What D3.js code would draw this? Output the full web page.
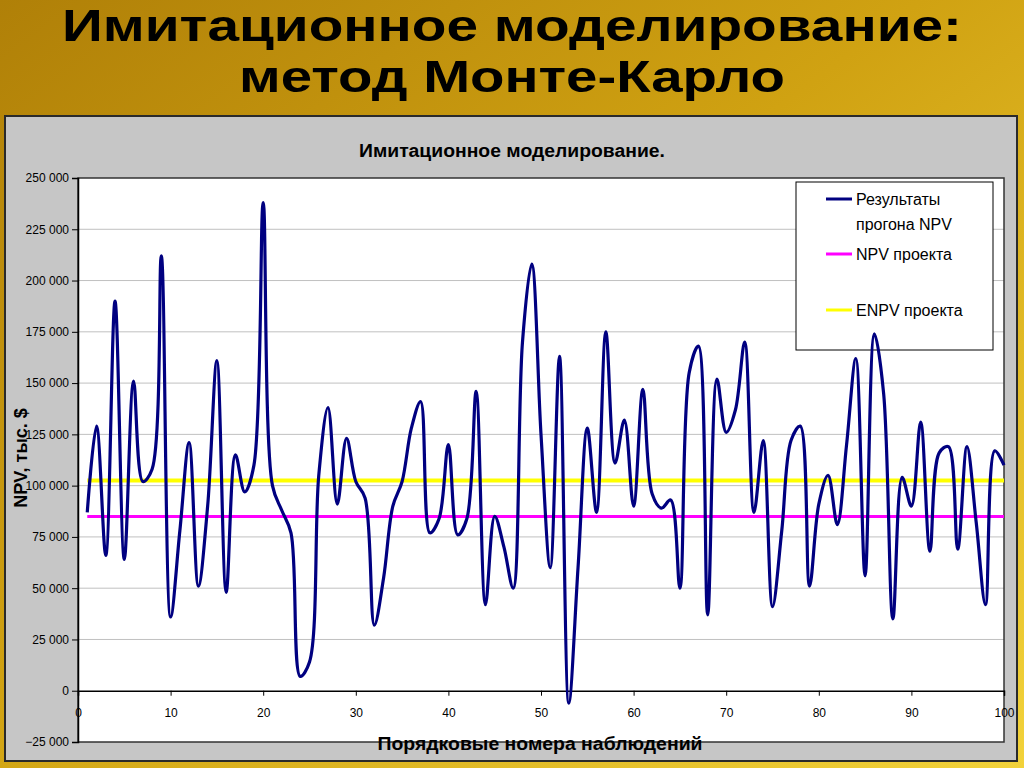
<!DOCTYPE html>
<html>
<head>
<meta charset="utf-8">
<script src="https://cdn.jsdelivr.net/npm/d3@7"></script>
<style>
  body { margin: 0; padding: 0; overflow: hidden; }
  svg { display: block; }
</style>
</head>
<body>
<svg id="canvas" width="1024" height="768"></svg>
<script>
// observation numbers 1..100 and simulated NPV values
let runs = d3.range(1, 101);
let npvRuns = [
  87000, 129000, 66000, 190000, 64000, 151000, 102000, 108000, 212000, 36000,
  78000, 121000, 51000, 90000, 161000, 48000, 115000, 97000, 110000, 238000,
  100000, 88000, 77000, 7000, 14000, 105000, 138000, 91000, 123000, 102000,
  94000, 32000, 55000, 90000, 102000, 128000, 141000, 77000, 84000, 120000,
  76000, 84000, 146000, 42000, 85000, 70000, 50000, 170000, 208000, 125000,
  60000, 163000, -6000, 60000, 128000, 87000, 175000, 111000, 132000, 90000,
  147000, 96000, 89000, 93000, 50000, 155000, 168000, 37000, 152000, 126000,
  137000, 170000, 87000, 122000, 41000, 78000, 122000, 129000, 51000, 91000,
  105000, 81000, 120000, 162000, 56000, 174000, 145000, 35000, 104000, 90000,
  131000, 68000, 116000, 119000, 69000, 119000, 82000, 42000, 117000, 110000
];
let npvProject = 85000;
let enpvProject = 102500;

let yTicks = d3.range(-25000, 250001, 25000);
let xTicks = d3.range(0, 101, 10);

let legendItems = [
  { lines: ['Результаты', 'прогона NPV'], color: '#000080' },
  { lines: ['NPV проекта'], color: '#ff00ff' },
  { lines: ['ENPV проекта'], color: '#ffff00' }
];

let svg = d3.select('#canvas');
let sans = "'Liberation Sans', Arial, sans-serif";

// slide background
let defs = svg.append('defs');
let grad = defs.append('linearGradient')
  .attr('id', 'bg').attr('x1', '0').attr('y1', '0').attr('x2', '1').attr('y2', '1');
grad.append('stop').attr('offset', '0%').attr('stop-color', '#b08008');
grad.append('stop').attr('offset', '45%').attr('stop-color', '#d0a212');
grad.append('stop').attr('offset', '100%').attr('stop-color', '#f2d23a');

svg.append('rect').attr('width', 1024).attr('height', 768).attr('fill', 'url(#bg)');

// slide title
svg.append('text')
  .attr('x', 512).attr('y', 41)
  .attr('text-anchor', 'middle')
  .style('font-family', sans).style('font-weight', 'bold').style('font-size', '45px')
  .attr('textLength', 900).attr('lengthAdjust', 'spacingAndGlyphs')
  .text('Имитационное моделирование:');
svg.append('text')
  .attr('x', 512).attr('y', 92)
  .attr('text-anchor', 'middle')
  .style('font-family', sans).style('font-weight', 'bold').style('font-size', '45px')
  .attr('textLength', 546).attr('lengthAdjust', 'spacingAndGlyphs')
  .text('метод Монте-Карло');

// chart panel
svg.append('rect')
  .attr('x', 5).attr('y', 116).attr('width', 1012).attr('height', 645)
  .attr('fill', '#c6c6c6').attr('stroke', '#2a2a2a').attr('stroke-width', 2);

let plotLeft = 78, plotRight = 1004, plotTop = 178, plotBottom = 742;

let x = d3.scaleLinear().domain([0, 100]).range([plotLeft, plotRight]);
let y = d3.scaleLinear().domain([-25000, 250000]).range([plotBottom, plotTop]);

svg.append('rect')
  .attr('x', plotLeft).attr('y', plotTop)
  .attr('width', plotRight - plotLeft).attr('height', plotBottom - plotTop)
  .attr('fill', 'white');

// gridlines
svg.append('g')
  .selectAll('line')
  .data(yTicks.filter(d => d !== 0 && d !== -25000 && d !== 250000))
  .enter()
  .append('line')
  .attr('x1', plotLeft).attr('x2', plotRight)
  .attr('y1', d => y(d)).attr('y2', d => y(d))
  .attr('stroke', '#c0c0c0').attr('stroke-width', 1);

// plot frame
svg.append('rect')
  .attr('x', plotLeft).attr('y', plotTop)
  .attr('width', plotRight - plotLeft).attr('height', plotBottom - plotTop)
  .attr('fill', 'none').attr('stroke', '#333').attr('stroke-width', 1.5);

// y axis
let yAxis = d3.axisLeft(y)
  .tickValues(yTicks)
  .tickSize(6)
  .tickFormat(d => d3.format(',')(d).replace(/,/g, ' '));
let yG = svg.append('g').attr('transform', `translate(${plotLeft},0)`).call(yAxis);
yG.select('.domain').attr('stroke', '#000').attr('stroke-width', 1.5);
yG.selectAll('.tick line').attr('stroke', '#000');
yG.selectAll('.tick text')
  .attr('x', -9)
  .style('font-family', sans).style('font-size', '12px').attr('fill', '#000');

// x axis along zero
let xAxis = d3.axisBottom(x).tickValues(xTicks).tickSize(5).tickFormat(d3.format('d'));
let xG = svg.append('g').attr('transform', `translate(0,${y(0)})`).call(xAxis);
xG.select('.domain').attr('stroke', '#000').attr('stroke-width', 1.5);
xG.selectAll('.tick line').attr('stroke', '#000');
xG.selectAll('.tick text')
  .attr('y', 18)
  .style('font-family', sans).style('font-size', '12px').attr('fill', '#000');

// legend (series line is drawn over it, as in the original)
let lg = svg.append('g');
lg.append('rect')
  .attr('x', 796).attr('y', 182).attr('width', 197).attr('height', 168)
  .attr('fill', 'white').attr('stroke', '#000').attr('stroke-width', 1);

let legendY = [199, 254, 310];
legendItems.forEach((item, k) => {
  lg.append('line')
    .attr('x1', 826).attr('x2', 852)
    .attr('y1', legendY[k]).attr('y2', legendY[k])
    .attr('stroke', item.color).attr('stroke-width', 3);
  item.lines.forEach((t, j) => {
    lg.append('text')
      .attr('x', 856).attr('y', legendY[k] + 6 + j * 25)
      .style('font-family', sans).style('font-size', '16px').attr('fill', '#000')
      .text(t);
  });
});

// reference lines
svg.append('line')
  .attr('x1', x(1)).attr('x2', x(100))
  .attr('y1', y(enpvProject)).attr('y2', y(enpvProject))
  .attr('stroke', '#ffff00').attr('stroke-width', 4);
svg.append('line')
  .attr('x1', x(1)).attr('x2', x(100))
  .attr('y1', y(npvProject)).attr('y2', y(npvProject))
  .attr('stroke', '#ff00ff').attr('stroke-width', 3);

// simulation runs
let line = d3.line()
  .x((d, i) => x(runs[i]))
  .y(d => y(d))
  .curve(d3.curveCatmullRom.alpha(0.5));

svg.append('path')
  .datum(npvRuns)
  .attr('d', line)
  .attr('fill', 'none')
  .attr('stroke', '#000080')
  .attr('stroke-width', 3.2)
  .attr('stroke-linejoin', 'round');

// chart title
svg.append('text')
  .attr('x', 512).attr('y', 157)
  .attr('text-anchor', 'middle')
  .style('font-family', sans).style('font-weight', 'bold').style('font-size', '18px')
  .attr('textLength', 306).attr('lengthAdjust', 'spacingAndGlyphs')
  .text('Имитационное моделирование.');

// axis titles
svg.append('text')
  .attr('x', 540).attr('y', 750)
  .attr('text-anchor', 'middle')
  .style('font-family', sans).style('font-weight', 'bold').style('font-size', '18px')
  .attr('textLength', 325).attr('lengthAdjust', 'spacingAndGlyphs')
  .text('Порядковые номера наблюдений');

svg.append('text')
  .attr('transform', 'translate(27,458) rotate(-90)')
  .attr('text-anchor', 'middle')
  .style('font-family', sans).style('font-weight', 'bold').style('font-size', '18px')
  .text('NPV, тыс. $');
</script>
</body>
</html>
